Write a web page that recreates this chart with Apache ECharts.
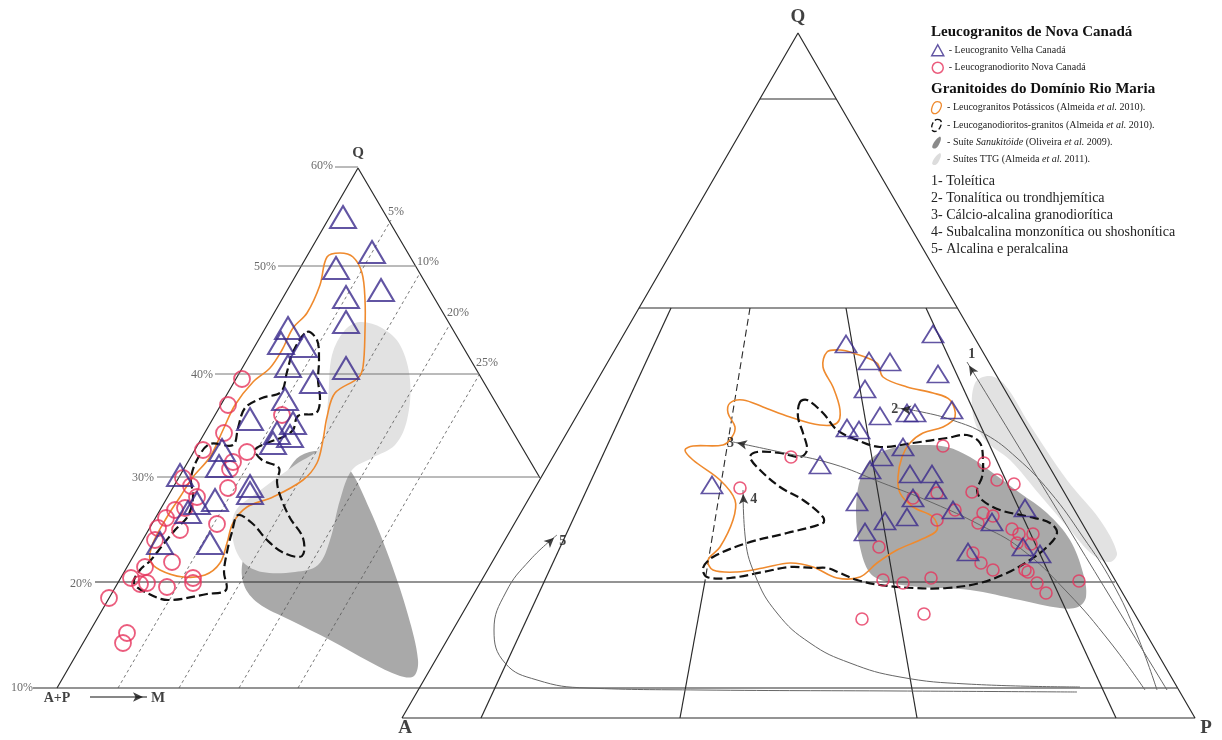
<!DOCTYPE html>
<html><head><meta charset="utf-8">
<script src="https://cdn.jsdelivr.net/npm/echarts@6/dist/echarts.min.js"></script>
<style>html,body{margin:0;padding:0;background:#fff}#c{width:1222px;height:740px}</style>
</head><body><div id="c"></div>
<script>
// ---------------- DATA (figure coordinate space: x 0..1222, y 0..740 downward) ----------------
// Leucogranito Velha Canadá (triangles)
const velhaLeft = [[343,217],[372,252],[336,268],[381,290],[346,297],[346,322],[288,328],[281,343],[304,346],[288,366],[346,368],[313,382],[285,399],[250,419],[293,423],[277,433],[290,436],[273,443],[222,450],[219,466],[180,475],[250,486],[250,493],[215,500],[197,503],[188,512],[210,543],[160,543]];
const velhaRight = [[933,334],[846,344],[869,361],[890,362],[938,374],[865,389],[880,416],[907,413],[915,413],[952,410],[847,428],[859,430],[903,447],[882,457],[870,470],[910,474],[932,474],[936,490],[913,498],[953,510],[857,502],[907,517],[885,521],[865,532],[992,522],[1025,508],[1023,547],[1040,554],[968,552],[820,465],[712,485]];
// Leucogranodiorito Nova Canadá (circles)
const novaLeft = [[242,379],[228,405],[282,415],[224,433],[203,450],[247,452],[233,462],[230,469],[183,478],[191,486],[197,497],[228,488],[185,508],[175,510],[166,518],[158,528],[180,530],[217,524],[155,540],[172,562],[145,567],[131,578],[147,583],[140,584],[167,587],[193,578],[193,583],[109,598],[127,633],[123,643]];
const novaRight = [[791,457],[740,488],[943,446],[984,463],[997,480],[1014,484],[972,492],[937,493],[913,498],[955,510],[937,520],[983,513],[993,516],[978,523],[1012,529],[1019,534],[1033,534],[1017,543],[1031,544],[879,547],[973,553],[981,563],[993,570],[1025,570],[1028,572],[1037,583],[1046,593],[1079,581],[883,580],[903,583],[931,578],[924,614],[862,619]];

// Field outlines (Domínio Rio Maria)
const potassicOutlines = [
  [[327,257],[340,253],[353,257],[362,273],[365,300],[365,330],[363,367],[358,378],[335,393],[327,417],[323,440],[317,463],[303,480],[273,497],[247,507],[233,523],[227,543],[220,563],[205,575],[183,577],[160,570],[150,560],[153,543],[167,517],[180,497],[193,477],[210,457],[223,430],[235,405],[253,382],[270,368],[282,350],[293,328],[307,313],[320,285]],
  [[827,352],[840,350],[853,353],[877,363],[883,377],[907,387],[933,393],[950,400],[955,417],[943,427],[923,433],[910,443],[902,457],[898,477],[900,493],[913,507],[933,517],[937,530],[920,540],[897,550],[877,563],[860,577],[837,578],[813,567],[790,563],[763,568],[737,572],[713,570],[708,560],[720,547],[733,520],[735,500],[720,480],[693,460],[685,450],[693,446],[723,445],[732,437],[735,427],[728,413],[730,403],[743,400],[763,407],[790,417],[820,425],[837,423],[840,410],[833,387],[823,367]]
];
const granodioriteOutlines = [
  [[307,332],[317,340],[319,360],[318,380],[320,400],[316,413],[298,416],[293,430],[283,437],[267,443],[255,450],[262,460],[279,468],[277,482],[281,498],[290,518],[303,538],[302,556],[284,553],[267,540],[253,524],[238,515],[232,532],[227,552],[224,572],[226,590],[207,594],[168,600],[147,593],[134,583],[140,570],[150,561],[162,546],[175,530],[188,516],[193,497],[191,478],[198,458],[210,444],[233,445],[238,428],[245,408],[262,398],[281,392],[287,372],[293,352]],
  [[800,402],[807,400],[823,413],[837,430],[857,440],[880,447],[913,443],[947,438],[967,435],[980,443],[983,460],[982,477],[977,490],[982,500],[1000,510],[1030,517],[1050,523],[1057,533],[1047,547],[1030,560],[1007,573],[980,583],[947,588],[913,588],[880,585],[857,580],[840,573],[827,568],[813,568],[790,567],[763,572],[730,578],[707,577],[703,568],[713,557],[747,543],[787,533],[823,523],[823,517],[803,500],[780,487],[760,470],[750,457],[757,452],[780,453],[800,457],[807,450],[803,433],[798,417]]
];
const sanukitoidAreas = [
  [[300,456],[330,452],[350,470],[370,510],[390,560],[408,615],[418,660],[414,676],[400,676],[370,662],[330,640],[290,620],[258,603],[244,585],[243,560],[260,520],[280,485]],
  [[860,480],[873,457],[897,447],[920,445],[947,447],[970,457],[993,473],[1020,493],[1047,513],[1070,540],[1083,573],[1086,597],[1078,607],[1060,608],[1020,600],[970,590],[920,587],[887,582],[870,573],[860,547],[856,513]]
];
const ttgAreas = [
  [[360,322],[382,328],[400,345],[410,380],[407,420],[395,445],[372,458],[352,470],[340,500],[330,540],[318,565],[295,572],[262,572],[243,562],[233,540],[235,512],[258,492],[295,465],[322,445],[328,400],[332,355],[345,330]],
  [[975,383],[990,376],[1005,385],[1030,425],[1067,480],[1100,520],[1117,553],[1110,562],[1093,555],[1070,530],[1040,495],[1010,460],[985,440],[973,415]]
];

// Diagram frames
const frameLines = [
  [[57,688],[358,168],[540,478]],
  [[402,718],[798,33],[1195,718],[402,718]],
  [[760,99],[836,99]],
  [[639,308],[957,308]],
  [[671,308],[481,718]],
  [[705,581],[680,718]],
  [[846,308],[917,718]],
  [[926,308],[1116,718]],
  [[95,582],[1115,582]],
  [[33,688],[1177,688]]
];
const dashedLines = [[[750,308],[705,581]]];
const percentLines = [[[335,167],[358,167]],[[278,266],[416,266]],[[215,374],[479,374]],[[157,477],[540,477]]];
const dottedLines = [[[118,688],[391,220]],[[179,688],[420,273]],[[239,688],[450,324]],[[298,688],[479,375]]];

// Trend lines 1-5 (ending at arrow)
const trendNames = ['1','2','3','4','5'];
const trendPaths = [
  [[1167,690],[967,362]],
  [[1157,690],[1137,635],[1112,582],[1083,537],[1050,492],[1017,458],[985,434],[952,420],[922,412],[897,408]],
  [[1145,690],[1110,642],[1067,592],[1020,548],[980,525],[933,503],[880,482],[833,464],[780,452],[733,442]],
  [[1080,687],[967,684],[900,677],[850,663],[810,643],[777,613],[755,575],[745,535],[743,490]],
  [[1077,692],[900,691],[700,690],[587,688],[537,680],[505,663],[494,630],[506,592],[530,560],[557,535]]
];
const mArrow = [[90,697],[147,697]];

// Text
const percentTexts = ['60%','50%','40%','30%','20%','10%','5%','10%','20%','25%'];
const percentPos = [[322,166],[265,267],[202,375],[143,478],[81,584],[22,688],[396,212],[428,262],[458,313],[487,363]];
const vertexTexts = ['Q','Q','A','P','A+P','M'];
const vertexPos = [[358,153],[798,17],[405,728],[1206,728],[57,698],[158,698]];

const legendHeads = ['Leucogranitos de Nova Canadá','Granitoides do Domínio Rio Maria'];
const sampleNames = ['Leucogranito Velha Canadá','Leucogranodiorito Nova Canadá'];
const fieldNames = ['Leucogranitos Potássicos (Almeida et al. 2010).','Leucoganodioritos-granitos (Almeida et al. 2010).','Suíte Sanukitóide (Oliveira et al. 2009).','Suítes TTG (Almeida et al. 2011).'];
const seriesClasses = ['Toleítica','Tonalítica ou trondhjemítica','Cálcio-alcalina granodiorítica','Subalcalina monzonítica ou shoshonítica','Alcalina e peralcalina'];

// ---------------- RENDER ----------------
const SERIF = "'Liberation Serif','Times New Roman',serif";
const PURPLE = '#3b2a8c', RED = '#e6335c', ORANGE = '#ef8a2e', DARK = '#a9a9a9', LIGHT = '#e2e2e2';
const series = [];

function addLine(pts, style, z, smooth) {
  series.push({type:'line', data:pts, symbol:'none', showSymbol:false, silent:true, smooth: smooth||false,
    lineStyle:style, z:z, animation:false, clip:false});
}
function addPolys(name, polys, style, z) {
  series.push({type:'custom', name:name, coordinateSystem:'cartesian2d', silent:true, z:z, animation:false, clip:false,
    data: polys.map((p,i)=>[p[0][0], p[0][1], i]),
    renderItem: function(params, api){
      const poly = polys[params.dataIndex];
      return {type:'polygon', shape:{points: poly.map(pt=>api.coord(pt)), smooth:0.35},
        style: Object.assign({}, style)};
    }});
}

addPolys(fieldNames[2], sanukitoidAreas, {fill:DARK, stroke:'none'}, 1);
addPolys(fieldNames[3], ttgAreas, {fill:LIGHT, stroke:'none'}, 1);
frameLines.forEach(l=>addLine(l,{color:'#2a2a2a',width:1.2},2));
dashedLines.forEach(l=>addLine(l,{color:'#2a2a2a',width:1.1,type:[7,4]},2));
percentLines.forEach(l=>addLine(l,{color:'#777',width:1},2));
dottedLines.forEach(l=>addLine(l,{color:'#555',width:0.8,type:[3,3]},2));
addPolys(fieldNames[0], potassicOutlines, {fill:'none', stroke:ORANGE, lineWidth:1.6}, 3);
addPolys(fieldNames[1], granodioriteOutlines, {fill:'none', stroke:'#111', lineWidth:2.2, lineDash:[9,4]}, 3);
trendPaths.forEach(l=>addLine(l,{color:'#666',width:1},4,0.45));
addLine(mArrow,{color:'#111',width:1.2},4);

// arrowheads
function arrowItem(path, label, pos) {
  const b = path[path.length-1], a = path[path.length-2];
  const dx=b[0]-a[0], dy=b[1]-a[1], len=Math.hypot(dx,dy);
  const rot = Math.atan2(-dy, dx)*180/Math.PI - 90;
  return {value:[b[0]-dx/len*4, b[1]-dy/len*4], symbolRotate:rot, name:label,
    label:{show:!!label, position:pos, formatter:label, distance:2}};
}
const trendLabelPos = ['top','left','left','right','right'];
series.push({type:'scatter', silent:true, z:6, animation:false, symbol:'arrow', symbolSize:[7,10],
  itemStyle:{color:'#111'},
  label:{fontFamily:SERIF, fontWeight:'bold', fontSize:14, color:'#111'},
  data: trendPaths.map((p,i)=>arrowItem(p, trendNames[i], trendLabelPos[i])).concat([arrowItem(mArrow,'', 'right')])});

// samples
const triStyle = {color:'rgba(0,0,0,0)', borderColor:PURPLE, borderWidth:2};
const cirStyle = {color:'rgba(0,0,0,0)', borderColor:RED, borderWidth:1.8};
series.push({type:'scatter', name:sampleNames[1], data:novaLeft, symbol:'circle', symbolSize:16, itemStyle:cirStyle, z:5, animation:false, silent:true});
series.push({type:'scatter', name:sampleNames[1], data:novaRight, symbol:'circle', symbolSize:12, itemStyle:Object.assign({},cirStyle,{borderWidth:1.6}), z:5, animation:false, silent:true});
series.push({type:'scatter', name:sampleNames[0], data:velhaLeft, symbol:'triangle', symbolSize:[26,22], itemStyle:triStyle, z:5, animation:false, silent:true});
series.push({type:'scatter', name:sampleNames[0], data:velhaRight, symbol:'triangle', symbolSize:[21,17], itemStyle:Object.assign({},triStyle,{borderWidth:1.8}), z:5, animation:false, silent:true});

// texts
series.push({type:'scatter', silent:true, z:7, animation:false, symbolSize:0,
  data: percentPos.map((p,i)=>({value:p, name:percentTexts[i]})),
  label:{show:true, position:'inside', formatter:'{b}', fontFamily:SERIF, fontSize:12, color:'#444'}});
const vSizes = [15,19,19,19,14,15];
series.push({type:'scatter', silent:true, z:7, animation:false, symbolSize:0,
  data: vertexPos.map((p,i)=>({value:p, name:vertexTexts[i], label:{fontSize:vSizes[i]}})),
  label:{show:true, position:'inside', formatter:'{b}', fontFamily:SERIF, fontWeight:'bold', color:'#111'}});

const blob = 'path://M6,0 C10,0 11,3 9,7 C7,12 3,13 1,11 C-1,9 1,0 6,0 Z';
const leaf = 'path://M8,0 C10,1 9,5 6,10 C4,13 1,13 0,11 C0,8 4,2 8,0 Z';
const legendText = {fontFamily:SERIF, fontSize:10, color:'#222', rich:{i:{fontStyle:'italic', fontFamily:SERIF, fontSize:10, color:'#222'}}};
const fmt = n => '- ' + n.replace('et al.', '{i|et al.}').replace('Sanukitóide','{i|Sanukitóide}');

const option = {
  backgroundColor:'#fff',
  animation:false,
  grid:{left:0, right:0, top:0, bottom:0},
  xAxis:{type:'value', min:0, max:1222, show:false},
  yAxis:{type:'value', min:0, max:740, inverse:true, show:false},
  title:[
    {text:legendHeads[0], left:931, top:25, padding:0, textStyle:{fontFamily:SERIF, fontWeight:'bold', fontSize:15, color:'#111'}},
    {text:legendHeads[1], left:931, top:82, padding:0, textStyle:{fontFamily:SERIF, fontWeight:'bold', fontSize:15, color:'#111'}},
    {text:seriesClasses.map((c,i)=>(i+1)+'- '+c).join('\n'), left:931, top:173, padding:0,
     textStyle:{fontFamily:SERIF, fontWeight:'normal', fontSize:14, lineHeight:17, color:'#222'}}
  ],
  legend:[
    {left:931, top:44, orient:'vertical', itemWidth:12, itemHeight:11, itemGap:5, padding:0, selectedMode:false,
     textStyle:legendText, formatter:fmt,
     data:[{name:sampleNames[0], icon:'triangle', itemStyle:{color:'rgba(0,0,0,0)', borderColor:PURPLE, borderWidth:1.5}},
           {name:sampleNames[1], icon:'circle', itemStyle:{color:'rgba(0,0,0,0)', borderColor:RED, borderWidth:1.5}}]},
    {left:931, top:101, orient:'vertical', itemWidth:11, itemHeight:12, itemGap:4.5, padding:0, selectedMode:false,
     textStyle:legendText, formatter:fmt,
     data:[{name:fieldNames[0], icon:blob, itemStyle:{color:'rgba(0,0,0,0)', borderColor:ORANGE, borderWidth:1.3}},
           {name:fieldNames[1], icon:blob, itemStyle:{color:'rgba(0,0,0,0)', borderColor:'#111', borderWidth:1.3, borderType:'dashed'}},
           {name:fieldNames[2], icon:leaf, itemStyle:{color:'#8a8a8a', borderWidth:0}},
           {name:fieldNames[3], icon:leaf, itemStyle:{color:'#dcdcdc', borderWidth:0}}]}
  ],
  series: series
};
const chart = echarts.init(document.getElementById('c'), null, {renderer:'canvas'});
chart.setOption(option);
</script></body></html>
